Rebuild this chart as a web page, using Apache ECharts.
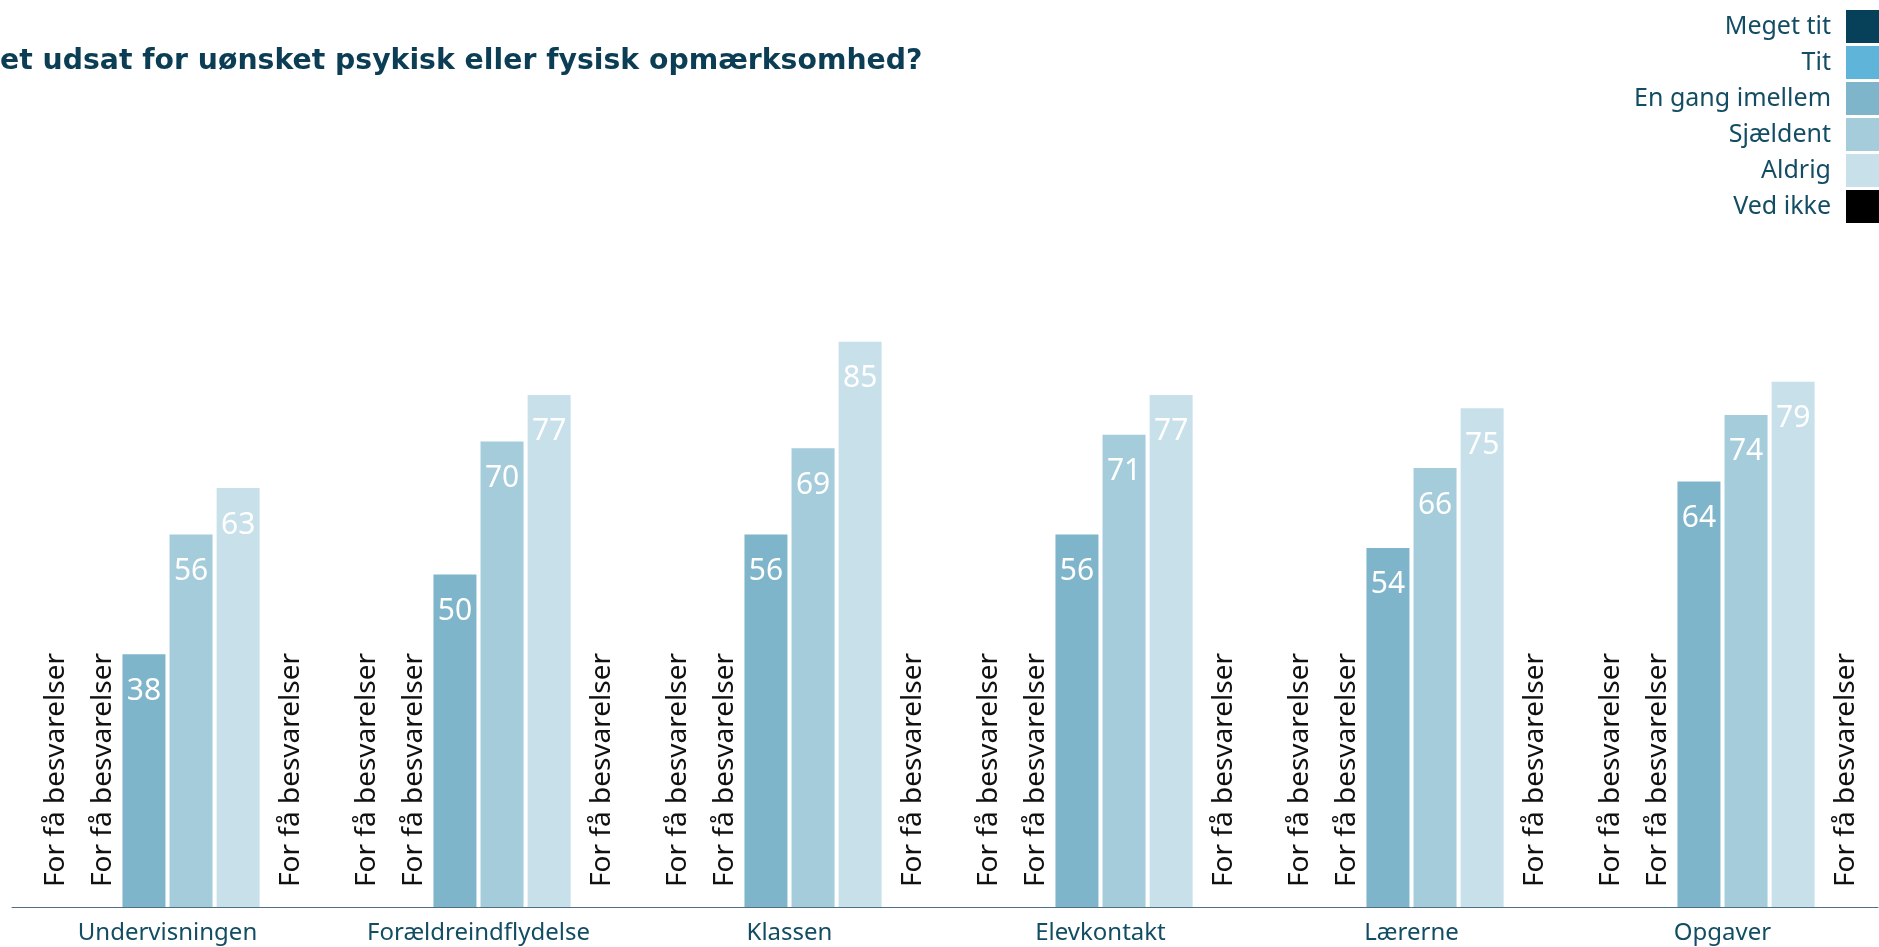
<!DOCTYPE html>
<html>
<head>
<meta charset="utf-8">
<script src="https://cdn.jsdelivr.net/npm/echarts@6/dist/echarts.min.js"></script>
<style>
  html, body { margin: 0; padding: 0; background: #ffffff; }
  #chart { width: 1879px; height: 947px; }
</style>
</head>
<body>
<div id="chart"></div>
<script>
// Survey answers per area, share of respondents (%)
const categories = ['Undervisningen', 'Forældreindflydelse', 'Klassen', 'Elevkontakt', 'Lærerne', 'Opgaver'];
const seriesNames = ['Meget tit', 'Tit', 'En gang imellem', 'Sjældent', 'Aldrig', 'Ved ikke'];

// null = too few responses to report
const megetTit = [null, null, null, null, null, null];
const tit = [null, null, null, null, null, null];
const enGangImellem = [38, 50, 56, 56, 54, 64];
const sjaeldent = [56, 70, 69, 71, 66, 74];
const aldrig = [63, 77, 85, 77, 75, 79];
const vedIkke = [null, null, null, null, null, null];

const fewLabel = 'For få besvarelser';
const titleText = 'et udsat for uønsket psykisk eller fysisk opmærksomhed?';

const colors = ['#064059', '#5fb4da', '#7fb5ca', '#a4ccdb', '#c8e0ea', '#000000'];
const values = [megetTit, tit, enGangImellem, sjaeldent, aldrig, vedIkke];

const textColor = '#134d63';
const bodyFont = '"Noto Sans", sans-serif';

// Rotated note for answers with too few responses
const fewLabelStyle = {
  show: true,
  position: 'insideBottom',
  rotate: 90,
  align: 'left',
  verticalAlign: 'middle',
  distance: 20,
  offset: [0, 6],
  color: '#111111',
  fontSize: 28,
  fontFamily: bodyFont,
  formatter: () => fewLabel
};

const series = seriesNames.map((name, i) => ({
  name: name,
  type: 'bar',
  barWidth: 43,
  barGap: '9.5%',
  itemStyle: { color: colors[i] },
  label: {
    show: true,
    position: 'insideTop',
    distance: 22,
    color: '#ffffff',
    fontSize: 30,
    fontFamily: bodyFont
  },
  emphasis: { disabled: true },
  data: values[i].map(v => v === null ? { value: 0, label: fewLabelStyle } : v)
}));

const chart = echarts.init(document.getElementById('chart'), null, { renderer: 'canvas' });
chart.setOption({
  animation: false,
  backgroundColor: '#ffffff',
  color: colors,
  title: {
    text: titleText,
    left: 0,
    top: 48,
    padding: 0,
    textStyle: {
      color: '#0b3d55',
      fontSize: 28.3,
      fontWeight: 'bold',
      fontFamily: '"DejaVu Sans", sans-serif'
    }
  },
  legend: {
    orient: 'vertical',
    right: 0,
    top: 10,
    padding: 0,
    align: 'right',
    icon: 'rect',
    itemWidth: 33,
    itemHeight: 33,
    itemGap: 3,
    selectedMode: false,
    data: seriesNames,
    textStyle: {
      color: textColor,
      fontSize: 25,
      fontFamily: bodyFont,
      width: 200,
      align: 'right',
      padding: [3, 10, 0, 0]
    }
  },
  grid: { left: 12, right: 1, top: 242, bottom: 40, containLabel: false },
  xAxis: {
    type: 'category',
    data: categories,
    axisTick: { show: false },
    axisLine: { lineStyle: { color: '#4f6f85', width: 1 } },
    axisLabel: {
      color: textColor,
      fontSize: 24,
      fontFamily: bodyFont,
      margin: 14
    }
  },
  yAxis: {
    type: 'value',
    min: 0,
    max: 100,
    show: false,
    splitLine: { show: false }
  },
  series: series
});
</script>
</body>
</html>
